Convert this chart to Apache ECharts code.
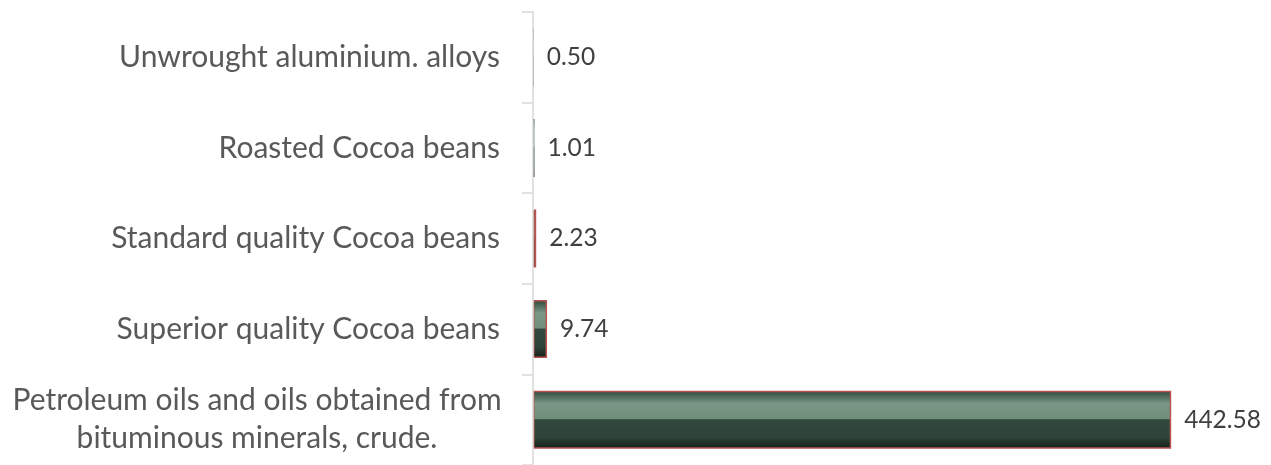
<!DOCTYPE html>
<html>
<head>
<meta charset="utf-8">
<script src="https://cdn.jsdelivr.net/npm/echarts@6/dist/echarts.min.js"></script>
<style>
  html, body { margin: 0; padding: 0; background: #ffffff; }
  #chart { width: 1271px; height: 465px; }
</style>
</head>
<body>
<div id="chart"></div>
<script>
// Export products, top to bottom
const categories = [
  'Unwrought aluminium. alloys',
  'Roasted Cocoa beans',
  'Standard quality Cocoa beans',
  'Superior quality Cocoa beans',
  'Petroleum oils and oils obtained from\nbituminous minerals, crude.'
];
const values = [0.50, 1.01, 2.23, 9.74, 442.58];

const chart = echarts.init(document.getElementById('chart'));

// bevelled dark green fill
const barFill = new echarts.graphic.LinearGradient(0, 0, 0, 1, [
  { offset: 0.00, color: '#2f4538' },
  { offset: 0.10, color: '#4d6b5b' },
  { offset: 0.22, color: '#7a9886' },
  { offset: 0.48, color: '#6f8e7c' },
  { offset: 0.50, color: '#34493d' },
  { offset: 0.80, color: '#2f4438' },
  { offset: 0.93, color: '#1d2c23' },
  { offset: 1.00, color: '#16221b' }
]);

// hairline-thin bars get no outline
const barData = values.map(function (v) {
  return v < 2 ? { value: v, itemStyle: { borderWidth: 0 } } : { value: v };
});

chart.setOption({
  animation: false,
  grid: { left: 533, top: 12, width: 721, height: 455, containLabel: false },
  xAxis: {
    type: 'value',
    min: 0,
    max: 500,
    show: false
  },
  yAxis: {
    type: 'category',
    inverse: true,
    z: 3, // axis line sits above the bars
    data: categories,
    axisLine: { show: true, lineStyle: { color: '#d9d9d9', width: 1.5 } },
    axisTick: { show: true, length: 11, lineStyle: { color: '#d9d9d9', width: 1.5 } },
    splitLine: { show: false },
    axisLabel: {
      margin: 33,
      fontFamily: 'Lato',
      fontSize: 30,
      color: '#595959',
      lineHeight: 38,
      formatter: function (v) {
        if (v.indexOf('\n') >= 0) {
          return v.split('\n').map(function (s) { return '{c|' + s + '}'; }).join('\n');
        }
        return v;
      },
      rich: {
        c: {
          width: 486,
          align: 'center',
          fontFamily: 'Lato',
          fontSize: 30,
          color: '#595959',
          lineHeight: 38
        }
      }
    }
  },
  series: [{
    type: 'bar',
    z: 2,
    data: barData,
    barCategoryGap: '36%',
    itemStyle: {
      color: barFill,
      borderColor: '#b85450',
      borderWidth: 1.5
    },
    label: {
      show: true,
      position: 'right',
      distance: 13,
      fontFamily: 'Lato',
      fontSize: 24.5,
      color: '#404040',
      formatter: function (p) { return p.value.toFixed(2); }
    }
  }]
});
</script>
</body>
</html>
